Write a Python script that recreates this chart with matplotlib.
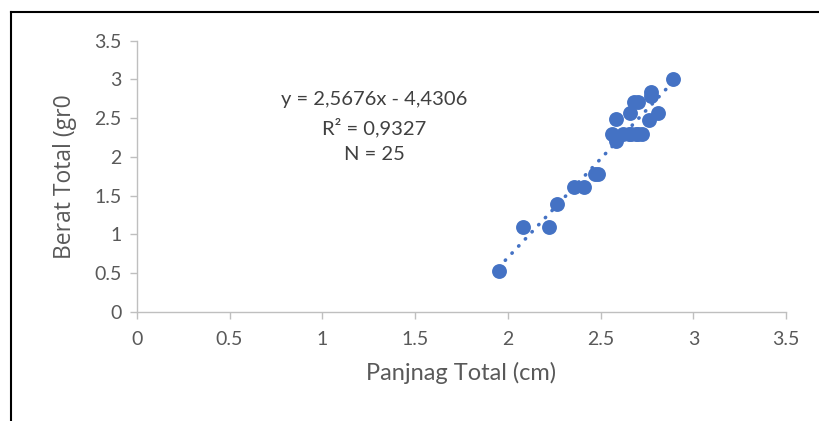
import numpy as np
import matplotlib
matplotlib.use("Agg")
import matplotlib.pyplot as plt
from matplotlib.lines import Line2D

# Data (25 fish)
panjang = [1.95, 2.08, 2.22, 2.265, 2.355, 2.41, 2.468, 2.485, 2.58, 2.563,
           2.584, 2.62, 2.65, 2.665, 2.69, 2.70, 2.72, 2.66, 2.678,
           2.70, 2.773, 2.773, 2.76, 2.81, 2.89]
berat = [0.53, 1.10, 1.10, 1.39, 1.61, 1.61, 1.78, 1.78, 2.49, 2.30,
         2.20, 2.30, 2.30, 2.30, 2.30, 2.30, 2.30, 2.56, 2.71,
         2.71, 2.84, 2.78, 2.48, 2.56, 3.00]

x_ticks = [0, 0.5, 1, 1.5, 2, 2.5, 3, 3.5]
y_ticks = [0, 0.5, 1, 1.5, 2, 2.5, 3, 3.5]
eq_text = "y = 2,5676x - 4,4306\nR² = 0,9327\nN = 25"

tick_font = "Lato"
gray = "#595959"
point_color = "#4472C4"

fig = plt.figure(figsize=(8.19, 4.21), dpi=100)
ax = fig.add_axes([0.167, 0.2596, 0.793, 0.6437])

x = np.array(panjang)
y = np.array(berat)
ax.scatter(x, y, s=115, color=point_color, zorder=3, linewidths=0)

coef = np.polyfit(x, y, 1)
xl = np.array([x.min(), x.max()])
ax.plot(xl, np.polyval(coef, xl), linestyle=(0, (0.1, 2.6)), color=point_color,
        linewidth=2.6, dash_capstyle="round", zorder=2)

ax.set_xlim(0, 3.5)
ax.set_ylim(0, 3.5)
ax.set_xticks(x_ticks)
ax.set_yticks(y_ticks)
ax.set_xticklabels([f"{t:g}" for t in x_ticks], fontsize=14, color=gray, family=tick_font)
ax.set_yticklabels([f"{t:g}" for t in y_ticks], fontsize=14, color=gray, family=tick_font)

for side in ["top", "right"]:
    ax.spines[side].set_visible(False)
for side in ["left", "bottom"]:
    ax.spines[side].set_color("#bfbfbf")
    ax.spines[side].set_linewidth(1.0)
ax.tick_params(axis="both", color="#bfbfbf", length=5, width=1.0, pad=6)
ax.tick_params(axis="x", pad=9)

ax.set_xlabel("Panjnag Total (cm)", fontsize=17, color=gray, family=tick_font, labelpad=10)
ax.set_ylabel("Berat Total (gr0", fontsize=16.5, color=gray, family="Open Sans", labelpad=12)

ax.text(1.28, 2.39, eq_text, fontsize=14.5, color="#404040", family=tick_font,
        ha="center", va="center", linespacing=1.6, transform=ax.transData)

# outer frame
fig.add_artist(Line2D([10.5 / 819, 10.5 / 819], [0, 1 - 12 / 421], transform=fig.transFigure,
                      color="black", linewidth=1.5))
fig.add_artist(Line2D([10.5 / 819, 1], [1 - 12 / 421, 1 - 12 / 421], transform=fig.transFigure,
                      color="black", linewidth=1.5))

fig.savefig("out.png", dpi=100, facecolor="white")
